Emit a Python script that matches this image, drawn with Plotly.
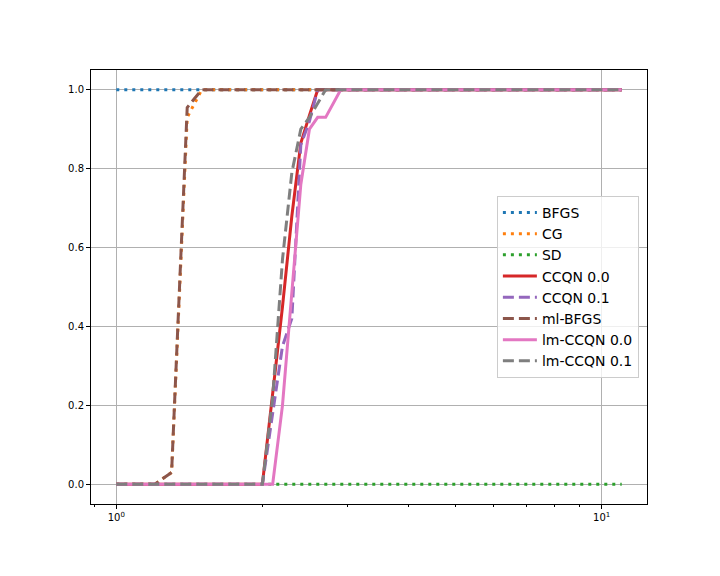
import plotly.graph_objects as go

# breakpoints of the performance profile (tau) shared by all series
tau = [1.0, 1.2, 1.3, 1.4, 1.5, 2.0, 2.1, 2.2, 2.3, 2.4, 2.5, 2.6, 2.7, 2.8, 2.9, 11.0]

bfgs      = [1, 1, 1, 1, 1, 1, 1, 1, 1, 1, 1, 1, 1, 1, 1, 1]
cg        = [0, 0, 0.03, 0.93, 1, 1, 1, 1, 1, 1, 1, 1, 1, 1, 1, 1]
sd        = [0, 0, 0, 0, 0, 0, 0, 0, 0, 0, 0, 0, 0, 0, 0, 0]
ccqn_00   = [0, 0, 0, 0, 0, 0, 0.23, 0.45, 0.68, 0.865, 0.935, 1, 1, 1, 1, 1]
ccqn_01   = [0, 0, 0, 0, 0, 0, 0.18, 0.35, 0.42, 0.86, 0.92, 1, 1, 1, 1, 1]
ml_bfgs   = [0, 0, 0.03, 0.955, 1, 1, 1, 1, 1, 1, 1, 1, 1, 1, 1, 1]
lm_ccqn_00 = [0, 0, 0, 0, 0, 0, 0, 0.2, 0.49, 0.76, 0.9, 0.93, 0.93, 0.965, 1, 1]
lm_ccqn_01 = [0, 0, 0, 0, 0, 0, 0.22, 0.57, 0.79, 0.9, 0.93, 0.965, 1, 1, 1, 1]

names = ["BFGS", "CG", "SD", "CCQN 0.0", "CCQN 0.1", "ml-BFGS", "lm-CCQN 0.0", "lm-CCQN 0.1"]
series = [bfgs, cg, sd, ccqn_00, ccqn_01, ml_bfgs, lm_ccqn_00, lm_ccqn_01]
colors = ["#1f77b4", "#ff7f0e", "#2ca02c", "#d62728", "#9467bd", "#8c564b", "#e377c2", "#7f7f7f"]
DOT = "3px,5px"
DASH = "11px,5px"
dashes = [DOT, DOT, DOT, "solid", DASH, DASH, "solid", DASH]

fig = go.Figure()
for n, ys, c, d in zip(names, series, colors, dashes):
    fig.add_trace(go.Scatter(x=tau, y=ys, name=n, mode="lines",
                             line=dict(color=c, width=3, dash=d)))

axis_common = dict(showline=True, linecolor="black", linewidth=1, mirror=True,
                   ticks="outside", ticklen=4, tickwidth=1, tickcolor="black",
                   gridcolor="#b0b0b0", gridwidth=1, zeroline=False,
                   tickfont=dict(family="DejaVu Sans", size=10, color="black"))

fig.update_layout(
    width=720, height=576,
    paper_bgcolor="white", plot_bgcolor="white",
    margin=dict(l=83, r=81, t=62, b=80),
    font=dict(family="DejaVu Sans", size=10, color="black"),
    xaxis=dict(type="log", range=[-0.0521, 1.0935],
               tickvals=[1, 10], ticktext=["10<sup>0</sup>", "10<sup>1</sup>"],
               minor=dict(tickvals=[0.9, 2, 3, 4, 5, 6, 7, 8, 9],
                          ticks="outside", ticklen=2, tickcolor="black", showgrid=False),
               **axis_common),
    yaxis=dict(range=[-0.05, 1.05], tickvals=[0, 0.2, 0.4, 0.6, 0.8, 1.0],
               tickformat=".1f", **axis_common),
    legend=dict(x=0.73, y=0.71, xanchor="left", yanchor="top", itemwidth=34,
                bgcolor="rgba(255,255,255,0.8)", bordercolor="#cccccc", borderwidth=1,
                font=dict(family="DejaVu Sans", size=14, color="black")),
    showlegend=True,
)

fig.write_html("out.html")
